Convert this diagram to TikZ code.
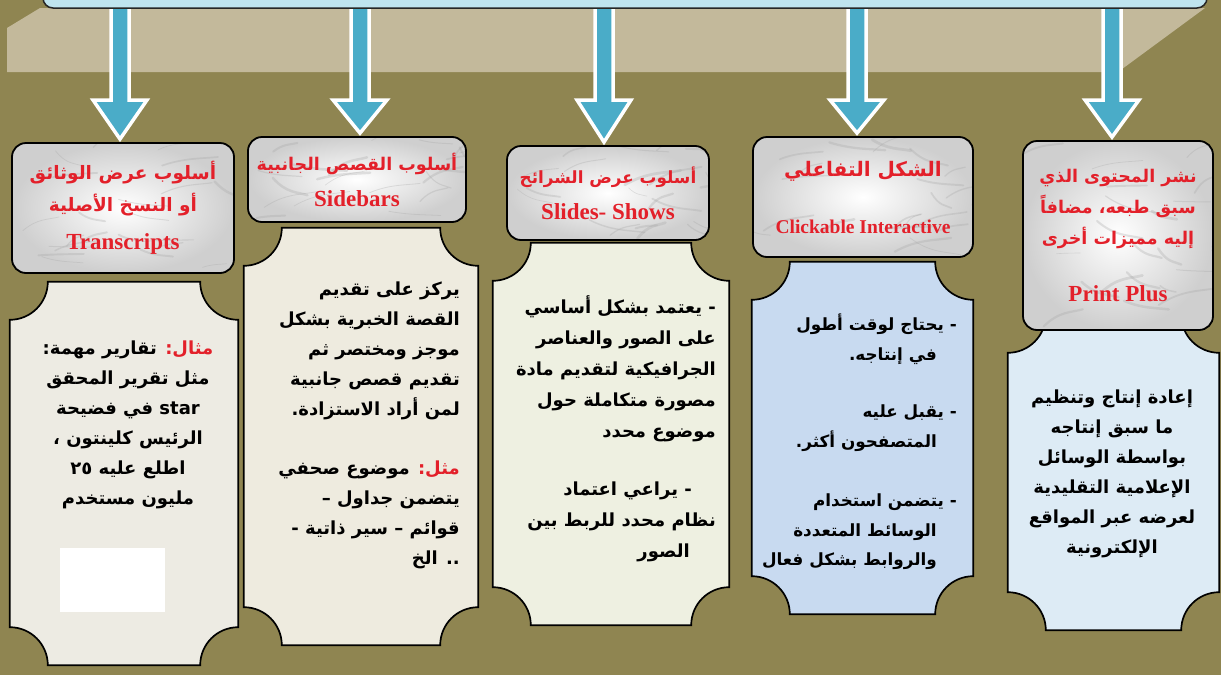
\documentclass[tikz,border=0pt]{standalone}
\usepackage{fontspec}
\usetikzlibrary{calc}
\TeXXeTstate=1
\newfontfamily\arfont[Script=Arabic, BoldFont={DejaVu Sans Bold}]{DejaVu Sans}
\newfontfamily\arred[Script=Arabic, Color=E3202A, BoldFont={DejaVu Sans Bold}]{DejaVu Sans}
\newfontfamily\latserif[BoldFont={Liberation Serif Bold}]{Liberation Serif}
\newcommand\AR[1]{\beginR #1\endR}
\newcommand\RED[1]{{\arred\bfseries #1}}
\definecolor{bgolive}{HTML}{8F8551}
\definecolor{bandtan}{HTML}{C3B99B}
\definecolor{arrowblue}{HTML}{4AACC8}
\definecolor{topblue}{HTML}{BFE4EF}
\definecolor{hred}{HTML}{E3202A}
\definecolor{bodyA}{HTML}{EDEBE3}
\definecolor{bodyB}{HTML}{EEEBDF}
\definecolor{bodyC}{HTML}{EEF0E1}
\definecolor{bodyD}{HTML}{C8DAF0}
\definecolor{bodyE}{HTML}{DDEBF5}
\pgfdeclarelayer{bottom}
\pgfdeclarelayer{back}
\pgfsetlayers{bottom,back,main}
\tikzset{
  topbar/.style={draw=black!85, line width=1.5pt, fill=topblue, rounded corners=10pt},
  hdr/.style={draw=black, line width=1.8pt, rounded corners=14pt, inner color=white, outer color=gray!38,
    align=center, inner sep=0pt, text=hred, font=\arfont\bfseries\fontsize{17.5}{31}\selectfont,
    path picture={
      \pgfmathsetseed{#1}
      \foreach \k in {1,...,22}{
        \pgfmathsetmacro\ax{rnd}\pgfmathsetmacro\ay{rnd}
        \pgfmathsetmacro\dx{15+45*rnd}\pgfmathsetmacro\dy{-18+36*rnd}
        \pgfmathsetmacro\lw{0.6+2.2*rnd}
        \draw[gray!70, opacity=0.3, line width=\lw pt, line cap=round]
          let \p1=(path picture bounding box.south west), \p2=(path picture bounding box.north east) in
          (\x1+\ax*\x2-\ax*\x1, \y1+\ay*\y2-\ay*\y1) .. controls +(\dx*0.4pt,\dy*0.9pt) and +(-\dx*0.3pt,-\dy*0.2pt) .. +(\dx pt,\dy pt);
      }}},
  hdr/.default=3,
  plain/.style={draw=none, inner sep=0pt},
  bodytext/.style={inner sep=0pt, text=black, font=\arfont\bfseries\fontsize{18}{30}\selectfont},
  barrow/.style={fill=arrowblue, draw=white, line width=3.5pt, line join=miter},
}
\newcommand\LAT[1]{{\latserif\bfseries #1}}
\newcommand\plaque[3]{%
  \begin{pgfonlayer}{back}
  \path[draw=black, line width=1.7pt, fill=#3] let \p1=(#1.north west), \p2=(#1.south east) in
    (\x1+#2,\y1) -- (\x2-#2,\y1) arc[start angle=180,end angle=270,radius=#2]
    -- (\x2,\y2+#2) arc[start angle=90,end angle=180,radius=#2]
    -- (\x1+#2,\y2) arc[start angle=0,end angle=90,radius=#2]
    -- (\x1,\y1-#2) arc[start angle=-90,end angle=0,radius=#2] -- cycle;
  \end{pgfonlayer}}
\newcommand\blockarrow[2]{%
  \begin{pgfonlayer}{back}
  \path[barrow] let \p1=(top.south), \p2=($(#1.north)+(#2,3)$) in
    (\x2-9pt,\y1+6pt) -- (\x2-9pt,-100pt) -- (\x2-27pt,-100pt) -- (\x2,\y2)
    -- (\x2+27pt,-100pt) -- (\x2+9pt,-100pt) -- (\x2+9pt,\y1+6pt) -- cycle;
  \end{pgfonlayer}}
\begin{document}
\begin{tikzpicture}[x=1pt,y=1pt]
\useasboundingbox (0,0) rectangle (1221,-675);
\begin{pgfonlayer}{bottom}
  \fill[bgolive] (0,0) rectangle (1221,-675);
  \fill[bandtan] (40,-8) -- (1205,-8) -- (1118,-72) -- (7,-72) -- (7,-28) -- cycle;
\end{pgfonlayer}
% top bar
\node[topbar, minimum width=1164pt, minimum height=30pt] (top) at (625,7) {};
% headers
\node[hdr=11, minimum width=222pt, minimum height=130pt, font=\arfont\bfseries\fontsize{18.5}{32}\selectfont] (h1) at (123,-208)
  {\AR{أسلوب عرض الوثائق}\\ \AR{أو النسخ الأصلية}\\[6pt] \LAT{\fontsize{23}{24}\selectfont Transcripts}};
\node[hdr=12, minimum width=218pt, minimum height=85pt] (h2) at (357,-179.5)
  {\AR{أسلوب القصص الجانبية}\\[5pt] \LAT{\fontsize{23}{24}\selectfont Sidebars}};
\node[hdr=13, minimum width=202pt, minimum height=94pt, font=\arfont\bfseries\fontsize{16.8}{31}\selectfont] (h3) at (608,-193)
  {\AR{أسلوب عرض الشرائح}\\[5pt] \LAT{\fontsize{23}{24}\selectfont Slides- Shows}};
\node[hdr=14, minimum width=220pt, minimum height=120pt] (h4) at (863,-197)
  {{\fontsize{20}{31}\selectfont\AR{الشكل التفاعلي}}\\[26pt] \LAT{\fontsize{19.5}{20}\selectfont Clickable Interactive}};
\node[hdr=15, minimum width=190pt, minimum height=189pt] (h5) at (1118,-235.5)
  {\AR{نشر المحتوى الذي}\\ \AR{سبق طبعه، مضافاً}\\ \AR{إليه مميزات أخرى}\\[26pt] \LAT{\fontsize{23}{24}\selectfont Print Plus}};
% arrows
\blockarrow{h1}{-3}
\blockarrow{h2}{3}
\blockarrow{h3}{-4}
\blockarrow{h4}{-6}
\blockarrow{h5}{-6}
% bodies
\node[plain, minimum width=228pt, minimum height=383pt] (b1) at (124,-473.5) {};
\node[plain, minimum width=234pt, minimum height=417pt] (b2) at (361,-436.5) {};
\node[plain, minimum width=236pt, minimum height=382pt] (b3) at (611,-434) {};
\node[plain, minimum width=221pt, minimum height=352pt] (b4) at (862.5,-438) {};
\node[plain, minimum width=211pt, minimum height=315pt] (b5) at (1113.5,-472.5) {};
\plaque{b1}{38pt}{bodyA}
\plaque{b2}{38pt}{bodyB}
\plaque{b3}{38pt}{bodyC}
\plaque{b4}{38pt}{bodyD}
\plaque{b5}{38pt}{bodyE}
\node[fill=white, minimum width=105pt, minimum height=64pt, inner sep=0pt] (wr) at (112.5,-580) {};
% body texts
\node[bodytext, align=center, anchor=north] (t1) at (128,-341)
  {\AR{\RED{مثال:} تقارير مهمة:}\\ \AR{مثل تقرير المحقق}\\ \AR{star في فضيحة}\\
   \AR{الرئيس كلينتون ،}\\ \AR{اطلع عليه ٢٥}\\ \AR{مليون مستخدم}};
\node[bodytext, align=right, anchor=north east] (t2) at (460,-282)
  {\AR{يركز على تقديم}\\ \AR{القصة الخبرية بشكل}\\ \AR{موجز ومختصر ثم}\\ \AR{تقديم قصص جانبية}\\
   \AR{لمن أراد الاستزادة.}\\[29pt] \AR{\RED{مثل:} موضوع صحفي}\\ \AR{يتضمن جداول –}\\
   \AR{قوائم – سير ذاتية -}\\ \AR{.. الخ}};
\node[bodytext, align=right, anchor=north east, font=\arfont\bfseries\fontsize{18}{31}\selectfont] (t3) at (716,-295)
  {\AR{- يعتمد بشكل أساسي}\\ \AR{على الصور والعناصر}\\ \AR{الجرافيكية لتقديم مادة}\\
   \AR{مصورة متكاملة حول}\\ \AR{موضوع محدد}\\[27pt] \AR{\hspace*{24pt}- يراعي اعتماد}\\
   \AR{نظام محدد للربط بين}\\ \AR{\hspace*{26pt}الصور}};
\node[bodytext, align=right, anchor=north east, font=\arfont\bfseries\fontsize{16.8}{29.5}\selectfont] (t4) at (957,-314)
  {\AR{- يحتاج لوقت أطول}\\ \AR{\hspace*{20pt}في إنتاجه.}\\[28pt] \AR{- يقبل عليه}\\
   \AR{\hspace*{20pt}المتصفحون أكثر.}\\[30pt] \AR{- يتضمن استخدام}\\ \AR{\hspace*{20pt}الوسائط المتعددة}\\
   \AR{\hspace*{20pt}والروابط بشكل فعال}};
\node[bodytext, align=center, anchor=north] (t5) at (1112,-390)
  {\AR{إعادة إنتاج وتنظيم}\\ \AR{ما سبق إنتاجه}\\ \AR{بواسطة الوسائل}\\ \AR{الإعلامية التقليدية}\\
   \AR{لعرضه عبر المواقع}\\ \AR{الإلكترونية}};
\end{tikzpicture}
\end{document}
